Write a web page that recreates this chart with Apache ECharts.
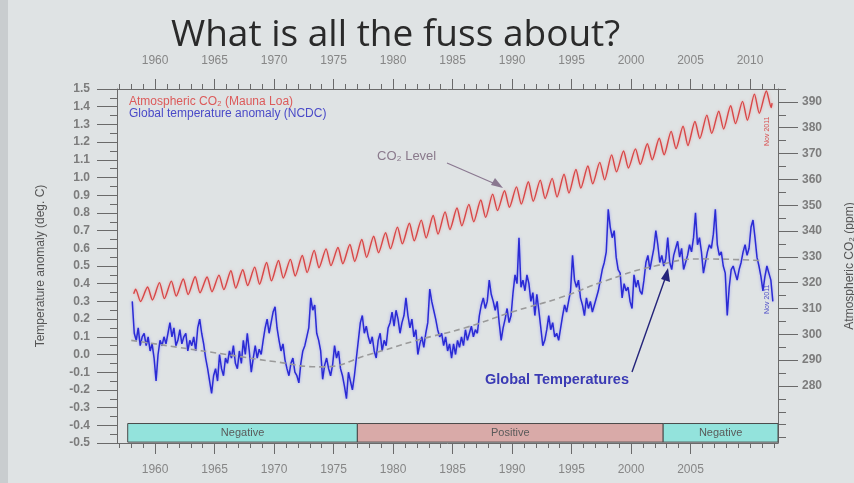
<!DOCTYPE html>
<html><head><meta charset="utf-8">
<script src="https://cdn.jsdelivr.net/npm/echarts@6/dist/echarts.min.js"></script>
<style>html,body{margin:0;padding:0;background:#dfe3e4;}#c{width:854px;height:483px;}</style>
</head><body><div id="c"></div>
<script>
// ---- data ----
var topYearLabels = [1960,1965,1970,1975,1980,1985,1990,1995,2000,2005,2010];
var bottomYearLabels = [1960,1965,1970,1975,1980,1985,1990,1995,2000,2005];
var co2LabelValues = [280,290,300,310,320,330,340,350,360,370,380,390];

// Mauna Loa CO2: yearly seasonal peak (May) and trough (Oct), ppm
var co2Years = [1958,1959,1960,1961,1962,1963,1964,1965,1966,1967,1968,1969,1970,1971,1972,1973,1974,1975,1976,1977,1978,1979,1980,1981,1982,1983,1984,1985,1986,1987,1988,1989,1990,1991,1992,1993,1994,1995,1996,1997,1998,1999,2000,2001,2002,2003,2004,2005,2006,2007,2008,2009,2010,2011];
var co2Peak = [317.5,318.3,320.0,320.6,321.4,322.3,322.2,322.9,324.6,325.0,326.0,327.8,328.6,329.0,330.5,332.5,333.1,333.6,334.8,336.7,338.0,339.3,341.5,343.0,344.2,346.0,347.4,348.9,350.3,352.0,354.3,355.6,357.1,359.1,359.7,360.4,362.0,363.8,365.2,366.6,369.5,371.0,371.8,373.8,375.9,378.6,380.6,382.4,384.9,386.4,388.5,390.2,393.0,394.2];
var co2Trough = [312.7,313.3,313.8,314.8,315.4,316.1,316.5,317.3,317.9,318.9,319.4,320.7,321.8,322.6,323.9,325.8,326.6,327.3,328.2,329.8,331.6,333.1,335.0,336.2,337.3,338.8,340.6,342.0,343.6,345.3,347.9,349.2,350.4,351.5,352.6,353.2,354.7,356.6,358.3,359.8,362.9,364.4,365.8,367.6,369.5,371.9,373.1,375.8,377.8,379.5,381.6,382.9,385.6,387.8];
var co2First = [1958.2, 315.7];
var co2Last = [2011.85, 389.5];

// Global temperature anomaly (NCDC), bi-monthly readings, deg C, from 1958
var tempStartYear = 1958;
var tempAnomaly = [
 0.30,0.12,0.08,0.15,0.05,0.10,   0.12,0.05,0.10,0.02,0.06,-0.02,   -0.15,0.00,0.08,0.05,0.10,0.06,
 0.12,0.18,0.10,0.15,0.05,0.08,   0.14,0.06,0.10,0.12,0.02,0.08,    0.05,0.10,0.02,0.15,0.20,0.12,
 0.06,-0.02,-0.08,-0.15,-0.22,-0.12,  -0.08,-0.15,0.00,-0.08,-0.12,-0.02,  -0.05,0.02,-0.02,0.05,-0.05,-0.08,
 0.02,-0.05,0.08,0.00,0.12,0.02,  -0.10,-0.02,0.05,-0.02,0.03,0.00,  0.08,0.15,0.20,0.12,0.18,0.24,
 0.27,0.15,0.08,0.02,0.06,-0.03,  -0.08,-0.12,-0.05,-0.02,-0.10,-0.12,  -0.16,-0.05,0.02,0.05,0.10,0.15,
 0.32,0.25,0.28,0.12,0.08,0.02,  -0.14,-0.06,-0.02,-0.08,-0.12,-0.06,  0.05,-0.02,0.02,-0.08,-0.12,-0.18,
 -0.25,-0.10,-0.15,-0.20,-0.12,-0.02,  0.08,0.18,0.22,0.12,0.16,0.10,  0.06,0.10,0.02,-0.02,0.08,0.12,
 0.02,0.08,0.05,0.15,0.18,0.24,  0.16,0.25,0.20,0.12,0.18,0.22,  0.32,0.22,0.15,0.20,0.10,0.14,
 0.00,0.06,0.10,0.04,0.12,0.18,  0.37,0.30,0.25,0.20,0.14,0.10,  0.12,0.05,0.10,0.02,0.06,-0.02,
 0.06,0.00,0.08,0.04,0.10,0.05,  0.14,0.08,0.12,0.16,0.10,0.14,  0.12,0.22,0.28,0.32,0.26,0.30,
 0.42,0.34,0.30,0.25,0.30,0.18,  0.08,0.15,0.20,0.26,0.18,0.22,  0.35,0.45,0.40,0.66,0.38,0.42,
 0.36,0.45,0.40,0.30,0.35,0.22,  0.34,0.25,0.15,0.05,0.08,0.14,  0.22,0.14,0.18,0.10,0.12,0.08,
 0.15,0.22,0.28,0.24,0.30,0.36,  0.56,0.42,0.38,0.42,0.32,0.28,  0.22,0.32,0.26,0.30,0.24,0.28,
 0.28,0.36,0.42,0.48,0.52,0.58,  0.82,0.72,0.66,0.70,0.55,0.48,  0.46,0.32,0.40,0.36,0.38,0.30,
 0.26,0.45,0.38,0.42,0.36,0.34,  0.42,0.52,0.56,0.48,0.54,0.60,  0.70,0.62,0.52,0.56,0.50,0.54,
 0.66,0.52,0.48,0.56,0.60,0.64,  0.55,0.60,0.48,0.52,0.56,0.62,  0.58,0.66,0.80,0.62,0.66,0.58,
 0.46,0.52,0.58,0.62,0.60,0.68,  0.82,0.62,0.56,0.58,0.50,0.46,  0.22,0.38,0.48,0.50,0.46,0.42,
 0.48,0.52,0.58,0.62,0.56,0.60,  0.72,0.76,0.66,0.55,0.50,0.44,  0.36,0.44,0.50,0.46,0.42,0.30
];

// smoothed temperature (grey dashed)
var trendYears = [1958,1962,1966,1970,1974,1978,1982,1986,1990,1994,1998,2002,2006,2011];
var trendValues = [0.08,0.04,0.00,-0.04,-0.07,0.00,0.08,0.15,0.24,0.32,0.42,0.50,0.54,0.53];

// PDO phase bars
var phaseNames = ['Negative','Positive','Negative'];
var phaseStart = [1957.7, 1977.0, 2002.7];
var phaseEnd = [1977.0, 2002.7, 2012.35];
var phaseColors = ['#93e3dc','#d9aaa8','#93e3dc'];
var phaseTop = -0.39, phaseBottom = -0.495;

// ---- build ----
function range(a,b,s){var r=[];for(var v=a;v<=b+1e-9;v+=s)r.push(Math.round(v*100)/100);return r;}
var co2Data=[co2First];
for(var i=0;i<co2Years.length;i++){co2Data.push([co2Years[i]+0.37,co2Peak[i]]);co2Data.push([co2Years[i]+0.78,co2Trough[i]]);}
co2Data.push(co2Last);
var tempData=tempAnomaly.map(function(v,i){return [tempStartYear+(i+0.5)/6,v];});
var trendData=trendYears.map(function(y,i){return [y,trendValues[i]];});
var phaseAreas=phaseNames.map(function(n,i){return [{name:n,xAxis:phaseStart[i],yAxis:phaseTop,itemStyle:{color:phaseColors[i]}},{xAxis:phaseEnd[i],yAxis:phaseBottom}];});

var XMIN=1956.8, XMAX=2012.35, CMIN=257.9, CMAX=395;
var FONT='Liberation Sans, Arial';
var lblStyle={color:'#7c7c7c',fontSize:12,fontFamily:FONT,fontWeight:'bold'};
var lineC='#6a6a6a';
function xAx(pos,labels,ticks,len,showLine){
  return {type:'value',min:XMIN,max:XMAX,position:pos,gridIndex:0,
    axisLine:{show:showLine,onZero:false,lineStyle:{color:lineC,width:1}},
    axisTick:{show:true,length:len,customValues:ticks,lineStyle:{color:lineC}},
    axisLabel:labels?{show:true,customValues:labels,margin:pos==='top'?22:21,formatter:function(v){return String(Math.round(v));},color:'#868686',fontSize:12,fontFamily:FONT}:{show:false},
    splitLine:{show:false}};
}
var chart=echarts.init(document.getElementById('c'),null,{renderer:'canvas'});
chart.setOption({
  backgroundColor:'#dfe3e4',
  animation:false,
  title:{text:'What is all the fuss about?',left:166,top:12,textStyle:{fontFamily:'Open Sans',fontSize:37,fontWeight:'normal',color:'#2a2a2a'}},
  legend:{orient:'vertical',left:124,top:96,padding:0,itemGap:0,itemWidth:0,itemHeight:0,
    data:[{name:'Atmospheric CO\u2082 (Mauna Loa)',icon:'none',textStyle:{color:'#dc5a5a'}},{name:'Global temperature anomaly (NCDC)',icon:'none',textStyle:{color:'#4a4ac8'}}],
    textStyle:{fontSize:12,lineHeight:12,fontFamily:FONT,padding:[0,0,0,0]}},
  grid:{left:117,right:76,top:89,bottom:40,containLabel:false,outerBoundsMode:'none'},
  xAxis:[
    xAx('bottom',bottomYearLabels,bottomYearLabels,11,true),
    xAx('bottom',null,range(1957,2012,1),5,false),
    xAx('top',topYearLabels,topYearLabels,10,true),
    xAx('top',null,range(1957,2012,1),5,false)
  ],
  yAxis:[
    {type:'value',min:-0.5,max:1.5,interval:0.1,position:'left',
     name:'Temperature anomaly (deg. C)',nameLocation:'middle',nameGap:70,nameRotate:90,
     nameTextStyle:{color:'#555',fontSize:12,fontFamily:FONT},
     axisLine:{show:true,onZero:false,lineStyle:{color:lineC}},
     axisTick:{show:true,length:20,lineStyle:{color:lineC}},
     minorTick:{show:true,splitNumber:2,length:7,lineStyle:{color:lineC}},
     axisLabel:Object.assign({margin:27,formatter:function(v){return v.toFixed(1);}},lblStyle),
     splitLine:{show:false}},
    {type:'value',min:CMIN,max:CMAX,position:'right',
     name:'Atmospheric CO\u2082 (ppm)',nameLocation:'middle',nameGap:66,nameRotate:90,
     nameTextStyle:{color:'#555',fontSize:12,fontFamily:FONT},
     axisLine:{show:true,onZero:false,lineStyle:{color:lineC}},
     axisTick:{show:true,length:20,customValues:co2LabelValues,lineStyle:{color:lineC}},
     axisLabel:Object.assign({margin:24,customValues:co2LabelValues},lblStyle),
     splitLine:{show:false}},
    {type:'value',min:CMIN,max:CMAX,position:'right',
     axisLine:{show:false,onZero:false},
     axisTick:{show:true,length:8,customValues:range(260,395,5),lineStyle:{color:lineC}},
     axisLabel:{show:false},splitLine:{show:false}}
  ],
  series:[
    {name:'Atmospheric CO\u2082 (Mauna Loa)',type:'line',xAxisIndex:0,yAxisIndex:1,data:co2Data,showSymbol:false,smooth:0.25,
     lineStyle:{color:'#d84646',width:1.4,shadowColor:'rgba(240,120,120,0.6)',shadowBlur:3},z:3},
    {name:'trend',type:'line',xAxisIndex:0,yAxisIndex:0,data:trendData,showSymbol:false,smooth:true,
     lineStyle:{color:'#9a9a9a',width:1.6,type:[6,4]},z:4},
    {name:'Global temperature anomaly (NCDC)',type:'line',xAxisIndex:0,yAxisIndex:0,data:tempData,showSymbol:false,
     lineStyle:{color:'#2b2bd4',width:1.5,shadowColor:'rgba(110,110,255,0.6)',shadowBlur:3},z:3,
     markArea:{silent:true,itemStyle:{borderColor:'#4a4a4a',borderWidth:1},
       label:{show:true,position:'inside',color:'#5a5a5a',fontSize:11,fontFamily:FONT},
       data:phaseAreas}}
  ],
  graphic:[
    {type:'rect',shape:{x:0,y:0,width:8,height:483},style:{fill:'#c9cdcf'},silent:true},
    {type:'text',left:377,top:150,style:{text:'CO\u2082 Level',fill:'#8a7a8c',font:'13px Liberation Sans, Arial'}},
    {type:'line',shape:{x1:447,y1:163,x2:500,y2:186},style:{stroke:'#8a7890',lineWidth:1.2}},
    {type:'polygon',shape:{points:[[503,188],[491,185],[495,178]]},style:{fill:'#8a7890'}},
    {type:'text',left:485,top:372,style:{text:'Global Temperatures',fill:'#3a3ab4',font:'bold 14.5px Liberation Sans, Arial'}},
    {type:'line',shape:{x1:632,y1:372,x2:666,y2:276},style:{stroke:'#24247a',lineWidth:1.4}},
    {type:'polygon',shape:{points:[[668,268],[670,282],[661,279]]},style:{fill:'#24247a'}},
    {type:'text',x:764,y:146,rotation:Math.PI/2,style:{text:'Nov 2011',fill:'#d85050',font:'7px Liberation Sans, Arial'}},
    {type:'text',x:764,y:314,rotation:Math.PI/2,style:{text:'Nov 2011',fill:'#5050c8',font:'7px Liberation Sans, Arial'}}
  ]
});
</script></body></html>
